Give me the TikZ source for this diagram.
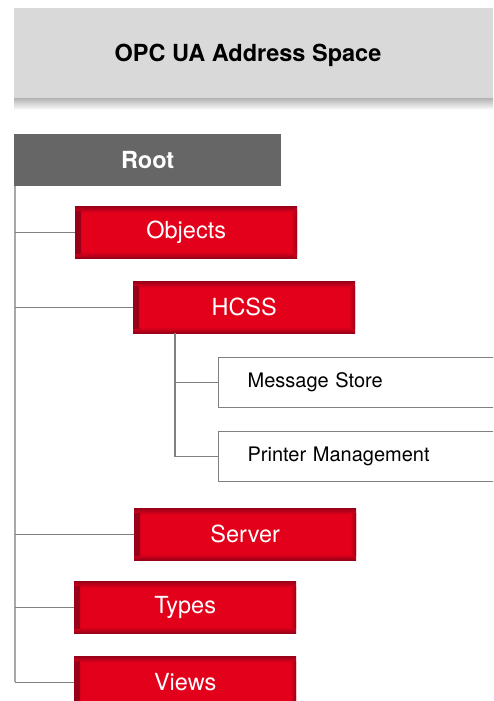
\documentclass[tikz,border=0pt]{standalone}
\usepackage{fontspec}
\setmainfont{TeX Gyre Heros}
\usetikzlibrary{calc}

\definecolor{hdrgray}{HTML}{D9D9D9}
\definecolor{rootgray}{HTML}{666666}
\definecolor{redmain}{HTML}{E2001A}
\definecolor{reddark}{HTML}{980019}
\definecolor{linegray}{HTML}{808080}
\definecolor{spinegray}{HTML}{A8A8A8}

\pgfdeclareverticalshading{redbar}{100bp}{color(0bp)=(reddark); color(25bp)=(reddark);
  color(31bp)=(redmain); color(69bp)=(redmain); color(75bp)=(reddark); color(100bp)=(reddark)}

\tikzset{
  rootbox/.style={fill=rootgray, text=white, font=\fontsize{23.5}{26}\selectfont\bfseries,
    minimum width=267pt, minimum height=52pt, inner sep=0pt, anchor=north west},
  redbox/.style={shade, shading=redbar, text=white, font=\fontsize{23.5}{26}\selectfont,
    minimum width=222pt, minimum height=52pt, inner sep=0pt, anchor=north west,
    path picture={
      \shade[left color=reddark, right color=redmain]
        ([yshift=-5pt]path picture bounding box.north west)
        rectangle ([xshift=6pt,yshift=5pt]path picture bounding box.south west);
      \shade[right color=reddark, left color=redmain]
        ([yshift=-5pt]path picture bounding box.north east)
        rectangle ([xshift=-6pt,yshift=5pt]path picture bounding box.south east);
    }},
  leafbox/.style={draw=linegray, line width=1.3pt, fill=white, font=\fontsize{20}{22}\selectfont,
    text width=262pt, align=left, inner xsep=29pt, minimum height=50pt, anchor=north west},
  link/.style={draw=linegray, line width=1.3pt},
  spine/.style={draw=spinegray, line width=2pt}
}

\begin{document}
\begin{tikzpicture}[x=1pt,y=-1pt]
	\clip (0,0) rectangle (493,701);
	\fill[white] (0,0) rectangle (493,701);

	% header
	\shade[top color=black!30, bottom color=white] (14,98) rectangle (493,110);
	\fill[hdrgray] (14,8) rectangle (493,98);
	\node[font=\fontsize{23.5}{26}\selectfont\bfseries] (title) at (248,55) {OPC UA Address Space};

	% tree
	\node[rootbox] (root) at (14,134) {Root};
	\coordinate (spinetop) at (15,186);
	\coordinate (spinebot) at (15,682);
	\draw[spine] (spinetop) -- (spinebot);

	\node[redbox] (objects) at (75,206) {Objects};
	\node[redbox] (hcss) at (133,281) {HCSS};
	\node[leafbox] (msgstore) at (218,357) {Message Store};
	\node[leafbox] (printer) at (218,431) {Printer Management};
	\node[redbox] (server) at (134,508) {Server};
	\node[redbox] (types) at (74,581) {Types};
	\node[redbox] (views) at (74,656) {Views};

	\foreach \n in {objects,hcss,server,types,views}
		\draw[link] (\n.west) -- (\n.west -| spinetop);

	\coordinate (subtop) at ($(hcss.south west)+(42,0)$);
	\coordinate (subbot) at (subtop |- printer.west);
	\draw[link] (subtop) -- (subbot);
	\draw[link] (msgstore.west) -- (msgstore.west -| subtop);
	\draw[link] (printer.west) -- (subbot);
\end{tikzpicture}
\end{document}
